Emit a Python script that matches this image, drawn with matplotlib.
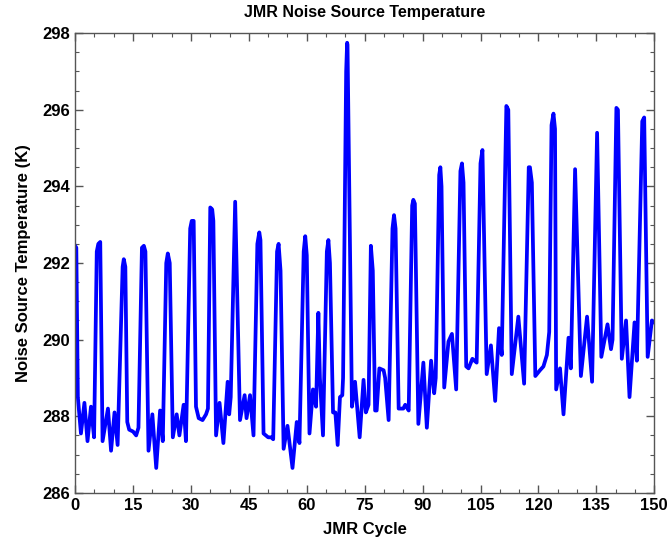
import matplotlib
matplotlib.use('Agg')
import matplotlib.ticker
from matplotlib import pyplot as plt

# values
cycle = [0, 0.3, 0.7, 1.5, 2.4, 3.2, 4.1, 4.9, 5.6, 6.0, 6.5, 7.1, 8.5, 9.3, 10.2, 11.0,
         12.3, 12.6, 13.0, 13.5, 14.0, 15.0, 15.8, 16.4, 17.3, 17.8, 18.2, 19.0, 20.0, 21.0,
         22.0, 22.7, 23.6, 24.0, 24.5, 25.3, 26.3, 27.0, 28.1, 28.7, 29.8, 30.2, 30.7, 31.3,
         32.0, 33.0, 33.9, 34.4, 35.0, 35.5, 35.8, 36.5, 37.4, 38.4, 39.5, 39.9, 40.3, 41.45,
         42.7, 43.9, 44.4, 45.3, 46.2, 47.2, 47.7, 48.0, 48.8, 50.0, 50.8, 51.3, 52.3, 52.7,
         53.2, 54.0, 55.0, 56.3, 57.4, 58.1, 59.2, 59.6, 60.0, 60.7, 61.6, 62.4, 63.0, 63.4,
         64.2, 65.2, 65.6, 66.0, 66.8, 67.4, 68.0, 68.6, 69.2, 69.4, 70.2, 70.45, 70.55, 71.7,
         72.5, 73.7, 74.7, 75.3, 76.0, 76.6, 77.1, 77.7, 78.1, 78.8, 79.9, 80.3, 81.2, 82.2,
         82.6, 83.0, 83.8, 85.0, 85.5, 86.4, 87.3, 87.6, 88.0, 88.9, 90.2, 91.1, 92.2, 93.0,
         93.4, 94.3, 94.6, 94.9, 95.6, 96.7, 97.6, 98.7, 99.8, 100.2, 100.6, 101.3, 101.9,
         102.9, 104.0, 105.0, 105.5, 106.6, 107.7, 108.8, 109.8, 110.5, 111.7, 112.2, 113.1,
         114.8, 116.3, 117.5, 117.8, 118.3, 119.2, 120.4, 121.3, 122.2, 122.8, 123.4, 123.9,
         124.3, 124.6, 125.6, 126.5, 127.8, 128.4, 129.5, 131.0, 132.6, 133.9, 135.2, 136.3,
         137.9, 138.8, 139.2, 140.2, 140.6, 141.6, 142.7, 143.6, 144.9, 145.5, 146.9, 147.4,
         148.3, 149.4, 150.0]
temp = [292.45, 292.4, 288.5, 287.55, 288.35, 287.35, 288.25, 287.45, 292.3, 292.5, 292.55,
        287.35, 288.2, 287.1, 288.1, 287.25, 291.9, 292.1, 291.9, 287.85, 287.65, 287.6,
        287.5, 287.7, 292.4, 292.45, 292.3, 287.1, 288.05, 286.65, 288.15, 287.35, 292.0,
        292.25, 292.0, 287.45, 288.05, 287.5, 288.3, 287.35, 292.9, 293.1, 293.1, 288.25,
        287.95, 287.9, 288.05, 288.2, 293.45, 293.4, 293.1, 287.5, 288.35, 287.3, 288.9,
        288.05, 288.5, 293.6, 287.9, 288.55, 287.95, 288.55, 287.5, 292.5, 292.8, 292.6,
        287.55, 287.45, 287.45, 287.4, 292.3, 292.5, 291.8, 287.15, 287.75, 286.65, 287.85,
        287.3, 292.3, 292.7, 292.2, 287.55, 288.7, 288.25, 290.7, 289.0, 287.5, 292.3, 292.6,
        292.0, 288.1, 288.1, 287.25, 288.5, 288.55, 289.0, 297.0, 297.75, 297.7, 288.25,
        288.9, 287.45, 288.95, 288.1, 288.3, 292.45, 291.8, 288.15, 288.15, 289.25, 289.2,
        289.0, 287.9, 292.9, 293.25, 292.9, 288.2, 288.2, 288.3, 288.15, 293.5, 293.65,
        293.55, 287.8, 289.4, 287.7, 289.45, 288.6, 289.0, 294.3, 294.5, 294.0, 288.75,
        289.95, 290.15, 288.7, 294.4, 294.6, 294.1, 289.3, 289.25, 289.5, 289.4, 294.6,
        294.95, 289.1, 289.85, 288.4, 290.3, 289.6, 296.1, 296.0, 289.1, 290.6, 288.85,
        294.5, 294.5, 294.1, 289.05, 289.2, 289.3, 289.6, 290.2, 295.6, 295.9, 295.5, 288.7,
        289.25, 288.05, 290.05, 289.25, 294.45, 289.05, 290.6, 288.9, 295.4, 289.55, 290.4,
        289.75, 290.0, 296.05, 296.0, 289.5, 290.5, 288.5, 290.45, 289.45, 295.7, 295.8,
        289.55, 290.5, 290.45]

plt.rcParams['font.family'] = ['Liberation Sans', 'DejaVu Sans']
plt.rcParams['font.weight'] = 'bold'

fig = plt.figure(figsize=(6.71, 5.44), dpi=100)
ax = fig.add_axes([0.112, 0.094, 0.863, 0.845])

ax.plot(cycle, temp, color='#0000ff', linewidth=2.7, solid_joinstyle='round')

ax.set_xlim(0, 150)
ax.set_ylim(286, 298)
ax.xaxis.set_major_locator(matplotlib.ticker.MultipleLocator(15))
ax.xaxis.set_minor_locator(matplotlib.ticker.MultipleLocator(5))
ax.yaxis.set_major_locator(matplotlib.ticker.MultipleLocator(2))
ax.yaxis.set_minor_locator(matplotlib.ticker.MultipleLocator(0.5))
ax.tick_params(which='both', direction='in', top=True, right=True, labelsize=12,
               color='#555555')
ax.tick_params(which='major', length=6, width=1)
ax.tick_params(which='minor', length=3, width=0.8)
for s in ax.spines.values():
    s.set_color('#555555')
    s.set_linewidth(1)

ax.set_title('JMR Noise Source Temperature', fontsize=11.5, fontweight='bold', pad=12)
ax.set_xlabel('JMR Cycle', fontsize=12, fontweight='bold', labelpad=7)
ax.set_ylabel('Noise Source Temperature (K)', fontsize=12, fontweight='bold', labelpad=8)

fig.savefig('out.png', dpi=100)
